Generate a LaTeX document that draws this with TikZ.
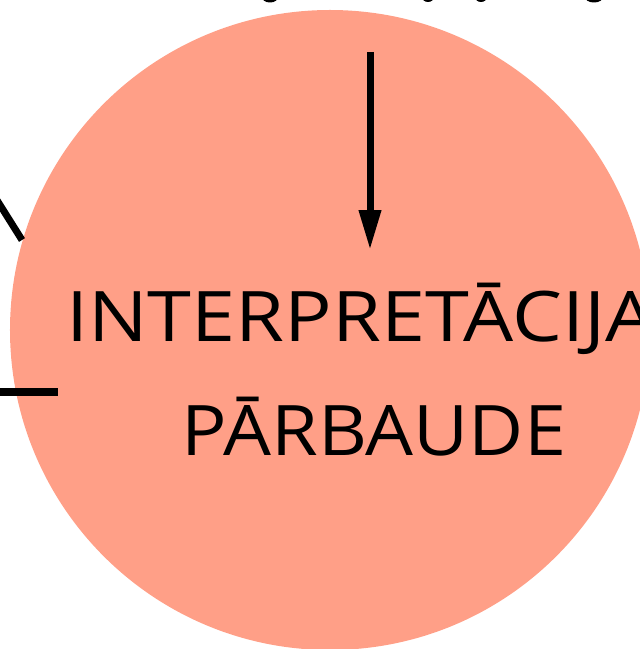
\documentclass[tikz,border=0pt]{standalone}
\usepackage{fontspec}
\setmainfont{Open Sans}
\usetikzlibrary{arrows.meta}
\definecolor{salmon}{RGB}{255,159,135}
\tikzset{
  bigdisc/.style={circle, fill=salmon, draw=none, minimum size=640bp, inner sep=0pt},
  label/.style={font=\fontsize{70}{84}\selectfont, text=black, inner sep=0pt},
  conn/.style={line width=7bp, black},
  frag/.style={fill=black},
}
\begin{document}
\begin{tikzpicture}[x=1bp,y=-1bp]
  \useasboundingbox (0,0) rectangle (640,649);
  \clip (0,0) rectangle (640,649);
  % fragments of cut-off text above
  \fill[frag] (270,-3) ellipse (8 and 5.5);
  \fill[frag] (428,-3) ellipse (6 and 5);
  \fill[frag] (481,-3) ellipse (6 and 5);
  \fill[frag] (594,-3) ellipse (9 and 5.5);
  % main disc
  \node[bigdisc] (disc) at (330,330) {};
  % text
  \node[label, anchor=base west, xscale=1.135] (l1) at (66,341) {INTERPRETĀCIJA};
  \node[label, anchor=base, xscale=1.085] (l2) at (374,455) {PĀRBAUDE};
  % arrow
  \coordinate (astart) at (370,52);
  \coordinate (aend) at (370,250);
  \draw[conn, -{Triangle[length=40bp,width=21bp]}] (astart) -- (aend);
  % left connectors
  \coordinate (d0) at (-5,197);
  \coordinate (d1) at (22,240);
  \draw[conn] (d0) -- (d1);
  \coordinate (h0) at (-5,392);
  \coordinate (h1) at (58,392);
  \draw[line width=8bp] (h0) -- (h1);
\end{tikzpicture}
\end{document}
